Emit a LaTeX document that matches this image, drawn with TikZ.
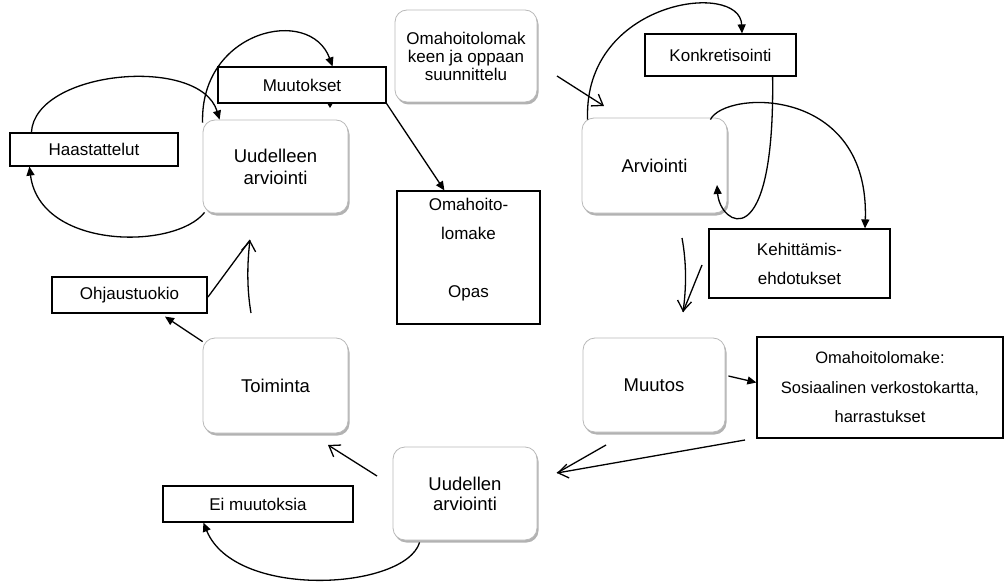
\documentclass[tikz,border=0pt]{standalone}
\usepackage{fontspec}
\setmainfont{Liberation Sans}
\usetikzlibrary{arrows.meta,shadows}
\begin{document}
\begin{tikzpicture}[x=1pt,y=-1pt,
  phase/.style={draw=gray!55, line width=0.8pt, rounded corners=12pt, fill=white,
    align=center, inner sep=0pt,
    drop shadow={shadow xshift=1.5pt, shadow yshift=-2.5pt, opacity=0.3, fill=black},
    font=\fontsize{18.5}{22}\selectfont},
  note/.style={draw=black, line width=1.2pt, fill=white, align=center, inner sep=0pt,
    font=\fontsize{17}{29}\selectfont},
  link/.style={line width=1.3pt, draw=black},
  solid head/.style={link, -{Triangle[length=9pt,width=8pt]}},
  open head/.style={link, -{Straight Barb[length=10pt,width=14pt]}},
]
\useasboundingbox (0,0) rectangle (1004,583);

% phases of the cycle
\node[phase, minimum width=142pt, minimum height=92pt, font=\fontsize{17}{18}\selectfont]
  (plan) at (466,56) {Omahoitolomak\\keen ja oppaan\\suunnittelu};
\node[phase, minimum width=145pt, minimum height=95pt] (arv) at (654.5,165.5) {Arviointi};
\node[phase, minimum width=145pt, minimum height=93pt] (uud) at (275.5,166.5) {Uudelleen\\arviointi};
\node[phase, minimum width=145pt, minimum height=95pt] (toim) at (275.5,385.5) {Toiminta};
\node[phase, minimum width=142pt, minimum height=94pt] (muut) at (654,385) {Muutos};
\node[phase, minimum width=144pt, minimum height=93pt, font=\fontsize{18.5}{20}\selectfont]
  (uudl) at (465,493.5) {Uudellen\\arviointi};

% outcome boxes
\node[note, minimum width=168pt, minimum height=36pt] (muutokset) at (302,85) {Muutokset};
\node[note, minimum width=168pt, minimum height=33pt] (haast) at (94,149.5) {Haastattelut};
\node[note, minimum width=151pt, minimum height=42pt] (konk) at (720.5,55) {Konkretisointi};
\node[note, minimum width=181pt, minimum height=69pt] (keh) at (799.5,263.5) {Kehittämis-\\ehdotukset};
\node[note, minimum width=143pt, minimum height=133pt] (opas) at (468.5,257.5) {};
\node[align=center, inner sep=0pt, font=\fontsize{17}{29}\selectfont]
  (opastext) at (468.5,250) {Omahoito-\\lomake\\[29pt]Opas};
\node[note, minimum width=246pt, minimum height=101pt, font=\fontsize{16.5}{29.5}\selectfont]
  (omah) at (880,387.5) {Omahoitolomake:\\Sosiaalinen verkostokartta,\\harrastukset};
\node[note, minimum width=155pt, minimum height=36pt] (ohj) at (129.5,295) {Ohjaustuokio};
\node[note, minimum width=190pt, minimum height=36pt] (eim) at (258,504) {Ei muutoksia};

% free ends of the hand-drawn arrows
\coordinate (planout) at (557,76);
\coordinate (arvin) at (604,106);
\coordinate (arvback) at (717,185);
\coordinate (a1) at (682,238);
\coordinate (a2) at (683,312);
\coordinate (a3) at (702,265);
\coordinate (b1) at (745,440);
\coordinate (b2) at (557,473);
\coordinate (b3) at (606,445);
\coordinate (c1) at (377,476);
\coordinate (c2) at (328,445);
\coordinate (d1) at (251,313);
\coordinate (d2) at (250,240);
\coordinate (d3) at (208,297);

% loop through the interviews
\draw[solid head] ([shift={(2,-1)}]uud.south west) .. controls (175,250) and (40,250) .. ([xshift=20pt]haast.south west);
\draw[solid head] ([xshift=22pt]haast.north west) .. controls (35,70) and (200,55) .. ([xshift=17pt]uud.north west);

% loop through the changes
\draw[solid head] ([shift={(0,3)}]uud.north west) .. controls (200,30) and (310,5) .. ([xshift=-54pt]muutokset.north east);
\fill (327,103) -- (333,103) -- (330,108) -- cycle;
\draw[solid head] (muutokset.south east) -- ([xshift=48pt]opas.north west);

% planning into evaluation
\draw[open head] (planout) -- (arvin);

% evaluation loops
\draw[solid head] ([shift={(6,2)}]arv.north west) .. controls (583,0) and (740,-20) .. ([xshift=21.5pt]konk.north);
\draw[solid head] ([xshift=-24pt]konk.south east) .. controls (775,260) and (720,225) .. (arvback);
\draw[solid head] ([shift={(-17,2)}]arv.north east) .. controls (725,90) and (870,85) .. ([xshift=65.5pt]keh.north);

% evaluation to change
\draw[open head] (a1) .. controls (687,265) and (686,290) .. (a2);
\draw[link] (a2) -- (a3);

% change to the form
\draw[solid head] ([shift={(3,-9)}]muut.east) -- ([shift={(0,-5)}]omah.west);

% into the re-evaluation
\draw[open head] (b1) -- (b2);
\draw[link] (b3) -- (b2);

% re-evaluation onwards
\draw[open head] (c1) -- (c2);
\draw[solid head] ([shift={(27,2)}]uudl.south west) .. controls (405,590) and (235,600) .. ([xshift=41pt]eim.south west);

% action
\draw[solid head] ([shift={(0,4)}]toim.north west) -- ([shift={(35.5,3)}]ohj.south);
\draw[open head] (d1) .. controls (247,290) and (247,265) .. (d2);
\draw[link] (d3) -- (d2);
\end{tikzpicture}
\end{document}
